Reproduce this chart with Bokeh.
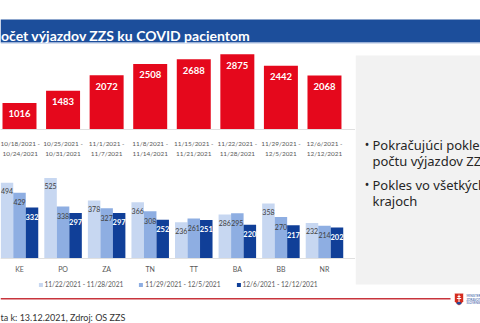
from bokeh.plotting import figure
from bokeh.layouts import column, row
from bokeh.models import Range1d, FixedTicker, LinearAxis, Legend, LegendItem
from bokeh.embed import file_html
from bokeh.resources import INLINE
from bokeh.core.properties import value

# ---------------- data ----------------
title_text = "očet výjazdov ZZS ku COVID pacientom"
weeks = ["10/18/2021 - 10/24/2021", "10/25/2021 - 10/31/2021", "11/1/2021 - 11/7/2021",
         "11/8/2021 - 11/14/2021", "11/15/2021 - 11/21/2021", "11/22/2021 - 11/28/2021",
         "11/29/2021 - 12/5/2021", "12/6/2021 - 12/12/2021"]
weekly_calls = [1016, 1483, 2072, 2508, 2688, 2875, 2442, 2068]

regions = ["KE", "PO", "ZA", "TN", "TT", "BA", "BB", "NR"]
series_names = ["11/22/2021 - 11/28/2021", "11/29/2021 - 12/5/2021", "12/6/2021 - 12/12/2021"]
week_a = [494, 525, 378, 366, 236, 286, 358, 232]
week_b = [429, 338, 327, 308, 261, 295, 270, 214]
week_c = [332, 297, 297, 252, 251, 220, 217, 202]

bullet_lines = [["Pokračujúci pokles v", "počtu výjazdov ZZS"], ["Pokles vo všetkých", "krajoch"]]
footer_text = "ta k: 13.12.2021, Zdroj: OS ZZS"
logo_lines = ["MINISTERSTVO", "ZDRAVOTNÍCTVA", "SLOVENSKEJ REPUBLIKY"]

FONT = "Lato"
RED = "#e5081c"
BLUES = ["#c7d7f1", "#8eaee2", "#103f98"]
GREY = "#595959"


def canvas(w, h):
    p = figure(width=w, height=h, x_range=Range1d(0, w), y_range=Range1d(h, 0),
               output_backend="svg", toolbar_location=None, x_axis_type=None,
               y_axis_type=None, min_border=0)
    p.outline_line_color = None
    p.background_fill_color = "white"
    p.border_fill_color = "white"
    return p


# ---------------- header ----------------
header = canvas(480, 44)
header.quad(left=0, right=480, top=19, bottom=42, fill_color="#1c4e9b", line_color=None)
header.segment(x0=0, y0=42.5, x1=480, y1=42.5, line_color="#a9bde0", line_width=1)
header.text(x=[0.5], y=[34.5], text=[title_text], text_font=value(FONT), text_font_style="bold",
            text_font_size="14px", text_color="white", text_baseline="alphabetic")

# ---------------- top chart ----------------
idx = list(range(len(weeks)))
xr = (-0.436, 7.712)
top = figure(width=355, height=116, x_range=Range1d(*xr), y_range=Range1d(0, 3250),
             output_backend="svg", toolbar_location=None, y_axis_type=None,
             min_border_left=0, min_border_right=0, min_border_top=0, min_border_bottom=27)
top.outline_line_color = None
top.grid.visible = False
top.vbar(x=idx, top=weekly_calls, width=0.78, fill_color=RED, line_color=None)
top.text(x=idx, y=weekly_calls, text=[str(v) for v in weekly_calls], text_align="center",
         text_baseline="middle", y_offset=11, text_font=value(FONT), text_font_style="bold",
         text_font_size="9.5px", text_color="white")
ax = top.xaxis[0]
ax.ticker = FixedTicker(ticks=idx)
ax.major_label_overrides = {i: w.replace(" - ", " -\n") for i, w in zip(idx, weeks)}
ax.major_tick_line_color = None
ax.minor_tick_line_color = None
ax.axis_line_color = "#e0e0e0"
ax.major_label_standoff = 4
ax.major_label_text_font = FONT
ax.major_label_text_font_size = "6.4px"
ax.major_label_text_color = GREY
ax.major_label_text_line_height = 1.5

# ---------------- bottom chart ----------------
scale = 0.1535
bot = figure(width=355, height=132, x_range=Range1d(*xr), y_range=Range1d(-34 / scale, 98 / scale),
             output_backend="svg", toolbar_location=None, x_axis_type=None, y_axis_type=None,
             min_border=0)
bot.outline_line_color = None
offsets = [-0.287, 0.0, 0.287]
label_styles = [("normal", "#404040", "7px", 8.5), ("normal", "#404040", "7px", 9.5),
                ("bold", "white", "7.5px", 9.5)]
renderers = []
for vals, off, col, (fs, tc, sz, yo) in zip([week_a, week_b, week_c], offsets, BLUES, label_styles):
    xs = [i + off for i in idx]
    r = bot.vbar(x=xs, top=vals, width=0.287, fill_color=col, line_color=None)
    renderers.append(r)
    bot.text(x=xs, y=vals, text=[str(v) for v in vals], text_align="center", text_baseline="middle",
             y_offset=yo, text_font=value(FONT), text_font_style=fs, text_font_size=sz, text_color=tc)
bax = LinearAxis(fixed_location=0, ticker=FixedTicker(ticks=idx),
                 major_label_overrides={i: r for i, r in zip(idx, regions)})
bax.major_tick_line_color = None
bax.minor_tick_line_color = None
bax.axis_line_color = "#e0e0e0"
bax.major_label_standoff = 0
bax.major_label_text_font = FONT
bax.major_label_text_font_size = "7px"
bax.major_label_text_color = GREY
bot.add_layout(bax, "below")
legend = Legend(items=[LegendItem(label=n, renderers=[r]) for n, r in zip(series_names, renderers)],
                location="bottom_center", orientation="horizontal", margin=4, padding=3,
                spacing=15, glyph_width=5, glyph_height=5, label_height=8, label_standoff=2,
                label_text_font=FONT, label_text_font_size="6.6px", label_text_color=GREY,
                border_line_color=None, background_fill_alpha=0)
bot.add_layout(legend)

# ---------------- right panel ----------------
BFONT = "Noto Sans"
right = canvas(125, 248)
right.quad(left=0, right=125, top=11, bottom=240, fill_color="#f2f2f2", line_color=None)
baselines = [[100, 116.5], [140, 156]]
for lines, bls in zip(bullet_lines, baselines):
    right.text(x=[11.5], y=[bls[0]], text=["•"], text_font=value(BFONT), text_font_size="12px",
               text_color="#262626", text_baseline="alphabetic", text_align="center")
    right.text(x=[17] * len(lines), y=bls, text=lines, text_font=value(BFONT),
               text_font_size="13px", text_color="#262626", text_baseline="alphabetic")

# ---------------- footer ----------------
footer = canvas(480, 31)
footer.segment(x0=0, y0=6.3, x1=450, y1=6.3, line_color="#c8343c", line_width=1.5)
footer.text(x=[0], y=[24.7], text=[footer_text], text_font=value(FONT), text_font_size="9px",
            text_color="#333333", text_baseline="alphabetic")
footer.patch(x=[454, 463, 463, 460.5, 458.5, 456.5, 454],
             y=[0.7, 0.7, 9, 11.8, 13, 11.8, 9], fill_color="#d52b1e", line_color="white", line_width=0.6)
footer.segment(x0=[458.5, 457, 456.3], y0=[2.2, 4, 6], x1=[458.5, 460, 460.7], y1=[9.5, 4, 6],
               line_color="white", line_width=1)
footer.ellipse(x=[458.5], y=[10.8], width=5, height=2.6, fill_color="#1d4a9c", line_color=None)
footer.text(x=[466] * 3, y=[3.5, 7, 10.5], text=logo_lines, text_font=value(FONT),
            text_font_size="3px", text_color="#1d4a9c", text_baseline="middle")

layout = column(header, row(column(top, bot, spacing=0), right, spacing=0), footer, spacing=0)
open("out.html", "w").write(file_html(layout, INLINE))
